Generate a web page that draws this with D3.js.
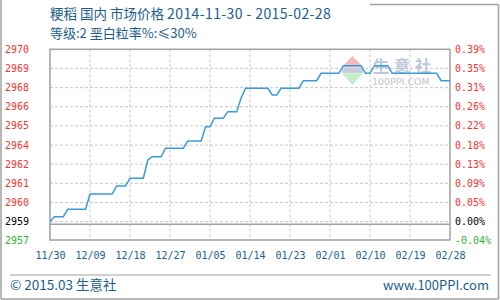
<!DOCTYPE html>
<html>
<head>
<meta charset="utf-8">
<script src="https://cdn.jsdelivr.net/npm/d3@7"></script>
<style>
  body { margin: 0; background: #fff; }
  svg { display: block; }
</style>
</head>
<body>
<div id="chart"></div>
<script>
// Daily price, 2014-11-30 .. 2015-02-28
var startDate = "2014-11-30";
var prices = [
  2958.67, 2959.00, 2959.00, 2959.00, 2959.50, 2959.50, 2959.50, 2959.50, 2959.50,
  2960.52, 2960.52, 2960.52, 2960.52, 2960.52, 2960.52,
  2961.06, 2961.06, 2961.06,
  2961.58, 2961.58, 2961.58, 2961.58,
  2962.80, 2963.02, 2963.02, 2963.02,
  2963.59, 2963.59, 2963.59, 2963.59, 2963.59,
  2964.08, 2964.08, 2964.08, 2964.08,
  2965.03, 2965.03,
  2965.60, 2965.60, 2965.60,
  2966.04, 2966.04, 2966.04,
  2966.96, 2967.61, 2967.61, 2967.61, 2967.61, 2967.61, 2967.61,
  2967.16, 2967.16,
  2967.61, 2967.61, 2967.61, 2967.61, 2967.61,
  2968.12, 2968.12, 2968.12, 2968.12,
  2968.61, 2968.61, 2968.61, 2968.61, 2968.61,
  2969.12, 2969.12, 2969.12, 2969.12, 2969.12,
  2968.61, 2968.61,
  2969.12, 2969.12, 2969.12, 2969.12,
  2968.61, 2968.61, 2968.61, 2968.61, 2968.61, 2968.61, 2968.61, 2968.61, 2968.61, 2968.61, 2968.61,
  2968.12, 2968.12, 2968.12
];

// y ticks (price) and their labels
var yTicks = [2957.44, 2958.67, 2959.95, 2961.24, 2962.52, 2963.80, 2965.09, 2966.37, 2967.65, 2968.94, 2970.22];
var leftLabels = ["2957", "2959", "2960", "2961", "2962", "2964", "2965", "2966", "2968", "2969", "2970"];
var rightLabels = ["-0.04%", "0.00%", "0.05%", "0.09%", "0.13%", "0.18%", "0.22%", "0.26%", "0.31%", "0.35%", "0.39%"];
var baseIndex = 1;
var tickStepDays = 9;

var titleName = "粳稻 国内 市场价格 ";
var titleRange = "2014-11-30 - 2015-02-28";
var subTitleText = "等级:2 垩白粒率%:≤30%";
var footLeft = "© 2015.03 生意社";
var footRight = "www.100PPI.com";

var width = 500, height = 300;
var plot = { left: 50, right: 450, top: 49.3, bottom: 240 };

var blue = "#1b5e8e";
var cjk = "'Noto Sans CJK SC', 'Noto Sans', sans-serif";
var mono = "'DejaVu Sans Mono', monospace";

var svg = d3.select("#chart").append("svg")
  .attr("width", width)
  .attr("height", height);

var parse = d3.timeParse("%Y-%m-%d");
var start = parse(startDate);
var data = prices.map((p, i) => ({ date: d3.timeDay.offset(start, i), value: p }));

var xScale = d3.scaleTime()
  .domain([start, d3.timeDay.offset(start, prices.length - 1)])
  .range([plot.left, plot.right]);

var yScale = d3.scaleLinear()
  .domain([yTicks[0], yTicks[yTicks.length - 1]])
  .range([plot.bottom, plot.top]);

var xTicks = d3.range(0, prices.length, tickStepDays).map((d) => d3.timeDay.offset(start, d));

// outer frame
var frame = svg.append("g").attr("stroke", "#a0a0a0").attr("stroke-width", 1.5).attr("fill", "none");
frame.append("line").attr("x1", 1).attr("y1", 0).attr("x2", 1).attr("y2", 299);
frame.append("line").attr("x1", 1).attr("y1", 299).attr("x2", 498.5).attr("y2", 299);
frame.append("line").attr("x1", 498.5).attr("y1", 4.5).attr("x2", 498.5).attr("y2", 299);
frame.append("line").attr("x1", 370).attr("y1", 4.5).attr("x2", 498.5).attr("y2", 4.5);

// titles
var title = svg.append("text").attr("x", 50).attr("y", 19)
  .attr("font-family", cjk).attr("font-size", 13.5).attr("fill", blue);
title.append("tspan").text(titleName);
title.append("tspan").attr("font-size", 14).attr("letter-spacing", 0.4).text(titleRange);
svg.append("text").attr("x", 50).attr("y", 38)
  .attr("font-family", cjk).attr("font-size", 13).attr("fill", blue)
  .text(subTitleText);

// watermark
var wm = svg.append("g");
wm.append("path").attr("d", "M352.5,56 L363,67 L342,67 Z").attr("fill", "#f4b8b8");
wm.append("rect").attr("x", 342).attr("y", 67.5).attr("width", 21).attr("height", 5.5).attr("fill", "#c8cce0");
wm.append("path").attr("d", "M342,73.5 L363,73.5 L352.5,85 Z").attr("fill", "#c4ecc8");
wm.append("text").attr("x", 373).attr("y", 72)
  .attr("font-family", cjk).attr("font-size", 16).attr("font-weight", "bold")
  .attr("letter-spacing", 5).attr("fill", "#bcc6de").text("生意社");
wm.append("text").attr("x", 372).attr("y", 84.5)
  .attr("font-family", "'DejaVu Sans', sans-serif").attr("font-size", 9.5)
  .attr("fill", "#c4c4c4").text("100PPI.COM");

// grid
var grid = svg.append("g").attr("stroke", "#c8c8c8").attr("stroke-dasharray", "3,2").attr("stroke-width", 1);
grid.selectAll(".hg").data(yTicks.slice(1, -1)).enter().append("line")
  .attr("x1", plot.left).attr("x2", plot.right)
  .attr("y1", (d) => yScale(d)).attr("y2", (d) => yScale(d));
grid.selectAll(".vg").data(xTicks.slice(1, -1)).enter().append("line")
  .attr("x1", (d) => xScale(d)).attr("x2", (d) => xScale(d))
  .attr("y1", plot.top).attr("y2", plot.bottom);

// baseline + plot border
svg.append("line")
  .attr("x1", plot.left).attr("x2", plot.right)
  .attr("y1", yScale(yTicks[baseIndex]) + 2.5).attr("y2", yScale(yTicks[baseIndex]) + 2.5)
  .attr("stroke", "#a0a0a0").attr("stroke-width", 1.5);
svg.append("rect")
  .attr("x", plot.left).attr("y", plot.top)
  .attr("width", plot.right - plot.left).attr("height", plot.bottom - plot.top)
  .attr("fill", "none").attr("stroke", "#a0a0a0").attr("stroke-width", 1.5);

// price line
var line = d3.line()
  .x((d) => xScale(d.date))
  .y((d) => yScale(d.value));
svg.append("path").datum(data)
  .attr("d", line)
  .attr("fill", "none")
  .attr("stroke", "#3a9bdc")
  .attr("stroke-width", 1.5);

// y labels
function labelColor(i) {
  if (i === baseIndex) return "#000";
  return i < baseIndex ? "#33b233" : "#ff3333";
}
svg.selectAll(".yl").data(yTicks).enter().append("text")
  .attr("x", 5).attr("y", (d) => yScale(d)).attr("dy", "0.35em")
  .attr("font-family", mono).attr("font-size", 10)
  .attr("fill", (d, i) => labelColor(i))
  .text((d, i) => leftLabels[i]);
svg.selectAll(".yr").data(yTicks).enter().append("text")
  .attr("x", 455).attr("y", (d) => yScale(d)).attr("dy", "0.35em")
  .attr("font-family", mono).attr("font-size", 10)
  .attr("fill", (d, i) => labelColor(i))
  .text((d, i) => rightLabels[i]);

// x axis labels
var xAxis = d3.axisBottom(xScale)
  .tickValues(xTicks)
  .tickSize(0)
  .tickPadding(0)
  .tickFormat(d3.timeFormat("%m/%d"));
var xg = svg.append("g")
  .attr("transform", "translate(0,252)")
  .call(xAxis);
xg.select(".domain").remove();
xg.selectAll("text")
  .attr("font-family", mono).attr("font-size", 10).attr("fill", blue);

// footer
svg.append("line").attr("x1", 10).attr("x2", 491).attr("y1", 275).attr("y2", 275)
  .attr("stroke", "#a0a0a0").attr("stroke-width", 1);
svg.append("text").attr("x", 10).attr("y", 290)
  .attr("font-family", cjk).attr("font-size", 13.5).attr("fill", blue)
  .text(footLeft);
svg.append("text").attr("x", 489).attr("y", 290).attr("text-anchor", "end")
  .attr("font-family", cjk).attr("font-size", 13).attr("fill", blue)
  .text(footRight);
</script>
</body>
</html>
